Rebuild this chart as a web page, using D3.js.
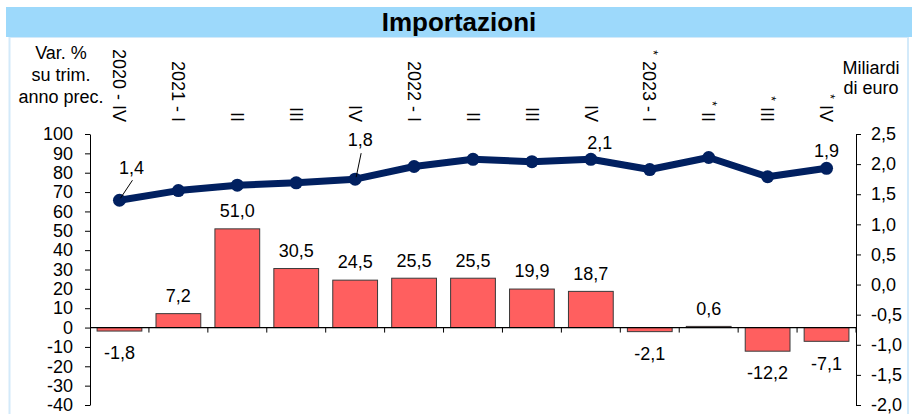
<!DOCTYPE html>
<html>
<head>
<meta charset="utf-8">
<script src="https://cdn.jsdelivr.net/npm/d3@7"></script>
<style>
  html, body { margin: 0; padding: 0; background: #fff; }
  svg { display: block; font-family: "Liberation Sans", Arial, sans-serif; }
</style>
</head>
<body>
<svg id="chart" width="915" height="414"></svg>
<script>
// ---- data ----
const categories = ["2020 - IV", "2021 - I", "II", "III", "IV", "2022 - I", "II", "III", "IV", "2023 - I", "II", "III", "IV"];
const provisional = [false, false, false, false, false, false, false, false, false, true, true, true, true];
const varPct = [-1.8, 7.2, 51.0, 30.5, 24.5, 25.5, 25.5, 19.9, 18.7, -2.1, 0.6, -12.2, -7.1];
const miliardi = [1.40, 1.56, 1.65, 1.69, 1.75, 1.96, 2.08, 2.04, 2.08, 1.91, 2.11, 1.79, 1.93];
const labelledPoints = [0, 4, 8, 12];
const leftTicks = [100, 90, 80, 70, 60, 50, 40, 30, 20, 10, 0, -10, -20, -30, -40];
const rightTicks = [2.5, 2.0, 1.5, 1.0, 0.5, 0.0, -0.5, -1.0, -1.5, -2.0];
const titleText = "Importazioni";
const leftUnit = ["Var. %", "su trim.", "anno prec."];
const rightUnit = ["Miliardi", "di euro"];

// ---- layout / style ----
const W = 915, H = 414;
const plot = { left: 90, right: 856, top: 134, bottom: 405 };
const barColor = "#FF5F5F", lineColor = "#012060", fs = 18;
// offsets of the line value labels from their points (label centre)
const pointLabelOffset = { 0: [12, -33, true], 4: [5, -39, true], 8: [9, -17, false], 12: [0, -18, false] };

const svg = d3.select("#chart");
const comma = v => v.toFixed(1).replace(".", ",");

// title band + frame
svg.append("rect").attr("x", 9.5).attr("y", 37).attr("width", 898.5).attr("height", 400)
  .attr("fill", "none").attr("stroke", "#D3EAFA").attr("stroke-width", 2);
svg.append("rect").attr("x", 6).attr("y", 7).attr("width", 906).attr("height", 30).attr("fill", "#9DD9FB");
svg.append("text").attr("x", 459).attr("y", 31).attr("text-anchor", "middle")
  .attr("font-size", 26).attr("font-weight", "bold").attr("fill", "#000").text(titleText);

// scales
const x = d3.scaleBand().domain(d3.range(categories.length)).range([plot.left, plot.right])
  .paddingInner(0.24).paddingOuter(0.12);
const yL = d3.scaleLinear().domain([-40, 100]).range([plot.bottom, plot.top]);
const yR = d3.scaleLinear().domain([-2, 2.5]).range([plot.bottom, plot.top]);
const cx = i => x(i) + x.bandwidth() / 2;
const step = (plot.right - plot.left) / categories.length;

// bars
svg.append("g").selectAll("rect").data(varPct).join("rect")
  .attr("x", (d, i) => x(i)).attr("width", x.bandwidth())
  .attr("y", d => yL(Math.max(0, d))).attr("height", d => Math.abs(yL(d) - yL(0)))
  .attr("fill", barColor).attr("stroke", "#3a3a3a").attr("stroke-width", 1);

// zero line + category ticks
const y0 = yL(0);
svg.append("line").attr("x1", plot.left).attr("x2", plot.right).attr("y1", y0).attr("y2", y0)
  .attr("stroke", "#000").attr("stroke-width", 1.2);
svg.append("g").selectAll("line").data(d3.range(1, categories.length + 1)).join("line")
  .attr("x1", i => plot.left + i * step).attr("x2", i => plot.left + i * step)
  .attr("y1", y0).attr("y2", y0 + 5).attr("stroke", "#000");

// left axis
const gL = svg.append("g").attr("transform", `translate(${plot.left},0)`)
  .call(d3.axisLeft(yL).tickValues(leftTicks).tickSize(5).tickSizeOuter(0).tickPadding(12).tickFormat(d => String(d)));
// right axis
const gR = svg.append("g").attr("transform", `translate(${plot.right},0)`)
  .call(d3.axisRight(yR).tickValues(rightTicks).tickSize(5).tickSizeOuter(0).tickPadding(10).tickFormat(comma));
[gL, gR].forEach(g => {
  g.selectAll("text").attr("font-size", fs).attr("font-family", "Liberation Sans, Arial, sans-serif").attr("fill", "#000");
  g.selectAll("line,path").attr("stroke", "#000");
});

// bar labels
svg.append("g").selectAll("text").data(varPct).join("text")
  .attr("x", (d, i) => cx(i))
  .attr("y", d => d >= 0 ? yL(d) - 18 : yL(d) + 22)
  .attr("dy", "0.35em").attr("text-anchor", "middle").attr("font-size", fs).attr("fill", "#000")
  .text(comma);

// line
const line = d3.line().x((d, i) => cx(i)).y(d => yR(d));
svg.append("path").datum(miliardi).attr("d", line).attr("fill", "none")
  .attr("stroke", lineColor).attr("stroke-width", 7).attr("stroke-linejoin", "round");
svg.append("g").selectAll("circle").data(miliardi).join("circle")
  .attr("cx", (d, i) => cx(i)).attr("cy", d => yR(d)).attr("r", 6.5).attr("fill", lineColor);

// line labels
labelledPoints.forEach(i => {
  const px = cx(i), py = yR(miliardi[i]);
  const [dx, dy, leader] = pointLabelOffset[i];
  const lx = px + dx, ly = py + dy;
  if (leader) {
    svg.append("line").attr("x1", px + 1).attr("y1", py - 2).attr("x2", lx + 1).attr("y2", ly + 13)
      .attr("stroke", "#000").attr("stroke-width", 1);
  }
  svg.append("text").attr("x", lx).attr("y", ly).attr("dy", "0.35em").attr("text-anchor", "middle")
    .attr("font-size", fs).attr("fill", "#000").text(comma(miliardi[i]));
});

// top category labels (rotated)
categories.forEach((c, i) => {
  const t = svg.append("text")
    .attr("transform", `translate(${cx(i)},122) rotate(90)`)
    .attr("text-anchor", "end").attr("font-size", fs).attr("fill", "#000");
  if (provisional[i]) {
    t.append("tspan").attr("font-size", 12).attr("dy", 0.5).text("*");
    t.append("tspan").attr("dy", 5.8).attr("dx", 6).text(c);
  } else {
    t.append("tspan").attr("dy", 6.3).text(c);
  }
});

// unit labels
svg.append("g").selectAll("text").data(leftUnit).join("text")
  .attr("x", 61).attr("y", (d, i) => 53 + i * 22).attr("dy", "0.35em")
  .attr("text-anchor", "middle").attr("font-size", fs).attr("fill", "#000").text(d => d);
svg.append("g").selectAll("text").data(rightUnit).join("text")
  .attr("x", 871).attr("y", (d, i) => 68 + i * 20).attr("dy", "0.35em")
  .attr("text-anchor", "middle").attr("font-size", fs).attr("fill", "#000").text(d => d);
</script>
</body>
</html>
